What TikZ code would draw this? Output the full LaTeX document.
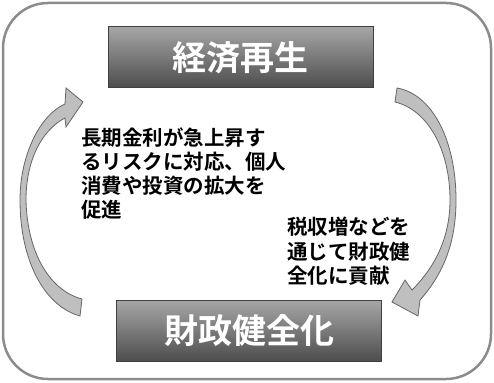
\documentclass[tikz,border=0pt]{standalone}
\usepackage{fontspec}
\setmainfont{Noto Sans CJK JP}[BoldFont={Noto Sans CJK JP Bold}]
\begin{document}
\begin{tikzpicture}[x=1pt, y=-1pt,
    titlebox/.style={draw=black!75, line width=1pt, top color=black!35, bottom color=black!70,
        minimum width=265pt, minimum height=61pt, inner sep=0pt,
        text=white, font=\bfseries\fontsize{34}{36}\selectfont},
    bodytext/.style={anchor=north west, align=left, inner sep=0pt, font=\bfseries\fontsize{20.5}{24}\selectfont},
    cyclearrow/.style={fill=black!25, draw=black!60, line width=0.8pt}]
    \useasboundingbox (0,0) rectangle (494,382);

    % Outer frame
    \draw[black!45, line width=2.5pt, rounded corners=45pt] (3,3) rectangle (491,379);

    % Two stages
    \node[titlebox] (growth) at (240.5,57.5) {経済再生};
    \node[titlebox] (fiscal) at (249,331) {財政健全化};

    % Cycle arrows
    \draw[cyclearrow] (82,299) .. controls (48,290) and (27,250) .. (26,200)
        .. controls (26,160) and (42,130) .. (65,118) -- (66,127) -- (83,102) -- (66,88) -- (65,104)
        .. controls (40,115) and (20,155) .. (20,200)
        .. controls (20,260) and (44,306) .. (80,316) -- cycle;
    \draw[cyclearrow] (397,88) .. controls (432,94) and (456,140) .. (456,200)
        .. controls (456,240) and (445,272) .. (420,300) -- (418,316) -- (392,302) -- (405,280) -- (412,290)
        .. controls (437,265) and (450,235) .. (450,200)
        .. controls (450,150) and (428,110) .. (395,102) -- cycle;

    % Effects
    \node[bodytext] (effect1) at (81,128) {長期金利が急上昇す\\るリスクに対応、個人\\消費や投資の拡大を\\促進};
    \node[bodytext, font=\bfseries\fontsize{20.5}{24.5}\selectfont] (effect2) at (287,217) {税収増などを\\通じて財政健\\全化に貢献};
\end{tikzpicture}
\end{document}
